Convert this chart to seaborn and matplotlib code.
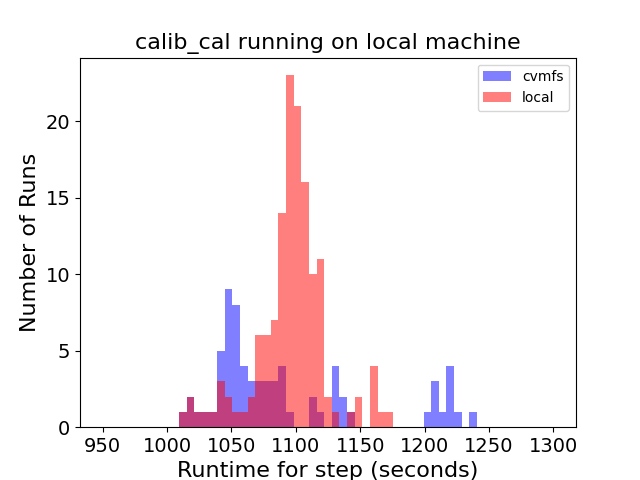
import numpy as np
import pandas as pd
import matplotlib
matplotlib.use("Agg")
import matplotlib.pyplot as plt
import seaborn as sns

# Histogram layout: 59 bins spanning 950..1300 seconds
range_lo, range_hi, n_bins = 950, 1300, 59

# Counts per bin index (bins with zero counts omitted)
cvmfs_bins = [10, 11, 12, 13, 14, 15, 16, 17, 18, 19, 20, 21, 22, 23, 24,
              27, 28, 30, 31, 32, 42, 43, 44, 45, 46, 48]
cvmfs_counts = [1, 2, 1, 1, 1, 5, 9, 8, 4, 3, 3, 3, 3, 4, 1,
                2, 1, 4, 2, 1, 1, 3, 1, 4, 1, 1]

local_bins = [10, 11, 12, 13, 14, 15, 16, 17, 18, 19, 20, 21, 22, 23, 24,
              25, 26, 27, 28, 29, 30, 32, 33, 35, 36, 37]
local_counts = [1, 2, 1, 1, 1, 3, 2, 1, 1, 2, 6, 6, 7, 14, 23,
                21, 16, 10, 11, 2, 1, 1, 2, 4, 1, 1]

edges = np.linspace(range_lo, range_hi, n_bins + 1)
centers = (edges[:-1] + edges[1:]) / 2

cvmfs = pd.DataFrame({"runtime": centers[cvmfs_bins], "n": cvmfs_counts})
local = pd.DataFrame({"runtime": centers[local_bins], "n": local_counts})

fig, ax = plt.subplots(figsize=(6.4, 4.8), dpi=100)
sns.histplot(data=cvmfs, x="runtime", weights="n", bins=n_bins,
             binrange=(range_lo, range_hi), color="blue",
             alpha=0.5, linewidth=0, label="cvmfs", ax=ax)
sns.histplot(data=local, x="runtime", weights="n", bins=n_bins,
             binrange=(range_lo, range_hi), color="red",
             alpha=0.5, linewidth=0, label="local", ax=ax)

pad = 0.05 * (range_hi - range_lo)
ax.set_xlim(range_lo - pad, range_hi + pad)
ax.set_title("calib_cal running on local machine", fontsize=16)
ax.set_xlabel("Runtime for step (seconds)", fontsize=16)
ax.set_ylabel("Number of Runs", fontsize=16)
ax.tick_params(labelsize=14)
ax.legend(loc="upper right")

fig.savefig("out.png", dpi=100)
